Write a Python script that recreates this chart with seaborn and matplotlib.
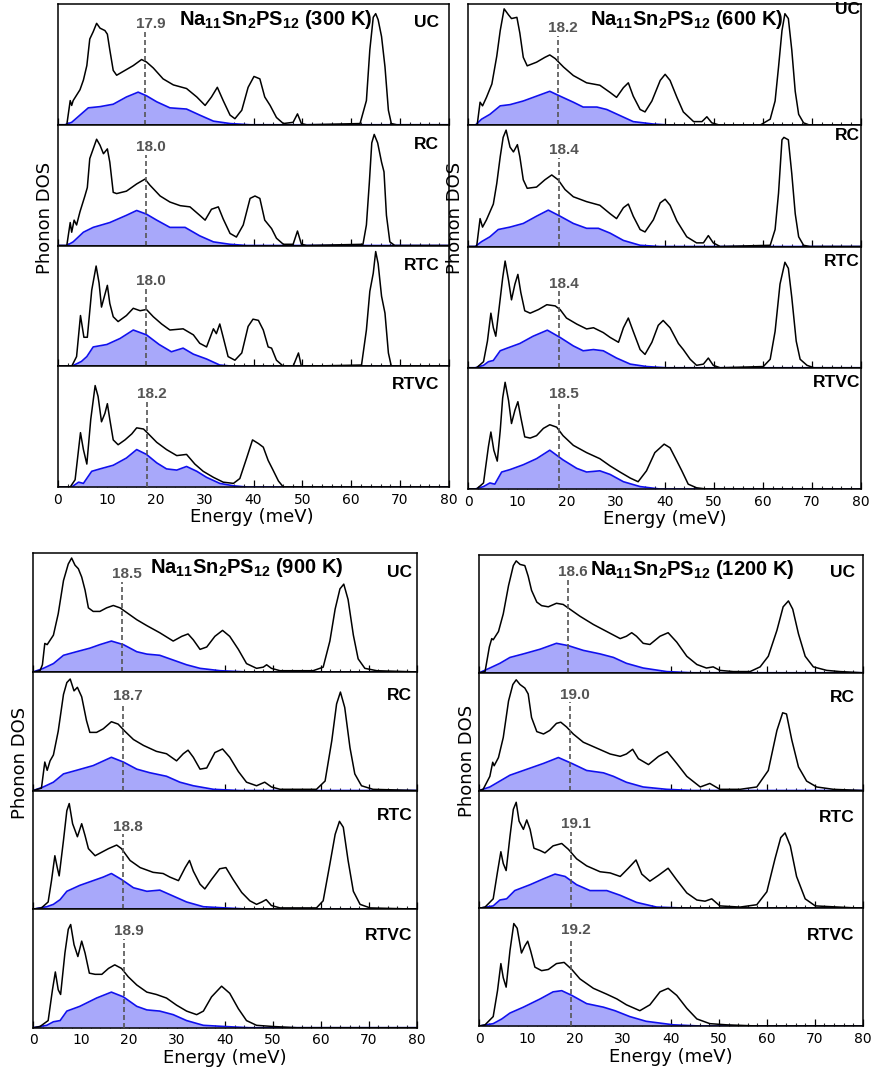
import matplotlib
matplotlib.use("Agg")
import matplotlib.pyplot as plt
from matplotlib.ticker import MultipleLocator
import seaborn as sns
import pandas as pd

# ---------------- data (energy meV, DOS as fraction of panel height) ----------------
temps = [300, 600, 900, 1200]
configs = ["UC", "RC", "RTC", "RTVC"]
xticks = [0, 10, 20, 30, 40, 50, 60, 70, 80]

avg_300 = [17.9, 18.0, 18.0, 18.2]
avg_600 = [18.2, 18.4, 18.4, 18.5]
avg_900 = [18.5, 18.7, 18.8, 18.9]
avg_1200 = [18.6, 19.0, 19.1, 19.2]

# 300 K
t300_uc_tot = [(0,0),(1.8,0),(2.5,.20),(2.8,.16),(3.1,.20),(4.5,.29),(5.2,.37),(5.9,.49),(6.5,.71),(7.2,.77),(7.9,.84),(8.6,.80),(9.6,.78),(10.1,.75),(10.6,.62),(11.3,.45),(12,.41),(13.7,.45),(15.4,.49),(17.1,.54),(18.1,.52),(19.5,.47),(21.5,.38),(23.6,.33),(26.3,.30),(28.4,.23),(30.1,.16),(31.4,.23),(32.6,.31),(33.8,.20),(35.2,.08),(36.2,.05),(37.6,.12),(38.9,.31),(40.1,.40),(41.3,.38),(42.3,.23),(43.4,.16),(44.7,.06),(46.1,.01),(48.1,.02),(49,.09),(49.8,.01),(50.9,0),(61.8,.01),(63.1,.2),(63.8,.62),(64.5,.89),(65,.92),(65.5,.87),(66.2,.73),(66.9,.48),(67.6,.12),(68.2,.01),(69.3,0),(80,0)]
t300_uc_par = [(0,0),(1.4,0),(2.8,.02),(4.5,.08),(6.2,.14),(8.6,.15),(11.3,.17),(14,.23),(16.4,.27),(18.1,.24),(20.2,.19),(22.9,.14),(26.3,.13),(29,.08),(31.8,.03),(35.2,.01),(39.3,0),(80,0)]
t300_rc_tot = [(0,0),(1.8,0),(2.5,.19),(2.8,.11),(3.3,.21),(3.8,.17),(4.5,.28),(5.5,.41),(6,.48),(6.5,.72),(7.2,.80),(7.9,.88),(8.6,.83),(9.3,.76),(10.1,.80),(10.6,.69),(11.3,.44),(12,.43),(14,.45),(16.1,.51),(17.8,.55),(18.8,.50),(20.9,.41),(22.9,.36),(25,.33),(27,.32),(29,.25),(30.1,.21),(31.4,.30),(32.8,.32),(33.8,.22),(35.2,.10),(36.5,.07),(37.9,.17),(39.3,.39),(40.3,.41),(41.3,.39),(42.3,.21),(43.7,.14),(44.7,.06),(46.1,.01),(48.1,.01),(49,.12),(49.8,.01),(50.9,0),(62.4,.01),(63.1,.17),(63.7,.52),(64.2,.85),(64.7,.92),(65.4,.85),(66.2,.69),(66.7,.61),(67.2,.25),(67.9,.03),(68.9,0),(80,0)]
t300_rc_par = [(0,0),(1.8,0),(3.1,.03),(5.2,.11),(7.2,.15),(10.6,.19),(14,.25),(16.1,.29),(18.1,.26),(20.2,.21),(22.9,.15),(26,.15),(29,.08),(31.8,.03),(35.2,.01),(38.6,0),(80,0)]
t300_rtc_tot = [(0,0),(2.8,0),(3.8,.08),(4.6,.42),(5.3,.24),(6,.24),(6.9,.63),(7.8,.83),(8.4,.69),(8.9,.49),(9.5,.58),(10.1,.67),(10.6,.52),(11.3,.41),(12.3,.37),(14,.42),(15.4,.48),(16.8,.46),(18.1,.47),(19.5,.41),(21.2,.35),(22.9,.30),(25.6,.31),(27.7,.26),(29,.19),(30.4,.16),(31.8,.31),(32.4,.27),(33.1,.35),(33.8,.24),(34.8,.08),(36.2,.05),(37.6,.11),(38.9,.33),(39.9,.39),(41,.38),(42,.30),(43,.16),(43.7,.15),(44.7,.05),(46.1,0),(48.1,0),(49.2,.11),(49.8,0),(62.1,.01),(63.1,.30),(63.8,.62),(64.5,.77),(65,.95),(65.5,.85),(66.2,.58),(66.9,.44),(67.6,.11),(68.2,0),(80,0)]
t300_rtc_par = [(0,0),(2.8,0),(3.8,.02),(4.8,.04),(5.9,.08),(7.2,.16),(10,.18),(12.7,.23),(15.4,.30),(18.1,.26),(20.7,.18),(23.2,.12),(25.6,.15),(27.7,.10),(30.4,.06),(33.1,.01),(35.9,0),(80,0)]
t300_rtvc_tot = [(0,0),(2.5,0),(3.5,.06),(4.6,.45),(5.2,.31),(5.9,.19),(6.7,.56),(7.6,.84),(8.2,.75),(8.9,.54),(9.6,.61),(10.1,.69),(10.6,.56),(11.3,.39),(12.3,.35),(13.7,.39),(15.1,.44),(16.1,.49),(17.5,.48),(18.5,.44),(20.2,.37),(22.2,.31),(24.3,.26),(26.3,.27),(28,.19),(29.7,.13),(31.8,.08),(33.8,.04),(35.9,.03),(37.2,.07),(38.6,.24),(39.8,.39),(41,.36),(42,.33),(43,.22),(44,.14),(45.1,.05),(46.1,0),(80,0)]
t300_rtvc_par = [(0,0),(2.8,0),(4.2,.04),(5.2,.03),(6.9,.13),(8.6,.15),(11.3,.18),(14,.24),(16.1,.31),(18.1,.27),(20.2,.20),(22.2,.15),(24.3,.14),(26.3,.17),(28.4,.13),(30.4,.08),(33.1,.03),(35.9,.01),(38.6,0),(80,0)]

# 600 K
t600_uc_tot = [(0,0),(1.8,0),(2.4,.19),(2.9,.16),(3.7,.23),(4.8,.34),(5.8,.57),(6.5,.78),(7.3,.96),(8.2,.91),(8.8,.88),(9.9,.89),(10.5,.76),(11.2,.56),(12,.49),(13.9,.52),(15.6,.56),(16.6,.58),(17.7,.55),(19.4,.48),(21.4,.41),(24.1,.35),(26.8,.33),(28.9,.27),(30.2,.23),(31.6,.31),(32.6,.35),(33.6,.24),(35,.13),(36,.11),(37.4,.20),(39.1,.37),(40.1,.42),(41.1,.37),(42.5,.23),(43.8,.11),(45.9,.03),(47.6,.03),(48.6,.07),(49.6,.02),(51.3,0),(59.4,0),(61.5,.05),(62.5,.20),(63.2,.48),(63.9,.78),(64.5,.92),(65.2,.88),(65.9,.62),(66.6,.28),(67.3,.09),(68.3,.02),(69.6,0),(80,0)]
t600_uc_par = [(0,0),(1.4,0),(2.7,.05),(4.4,.09),(6.5,.16),(8.5,.17),(11.2,.20),(13.9,.24),(16.6,.28),(18.7,.24),(21.4,.19),(23.4,.15),(26.2,.15),(28.2,.13),(30.9,.08),(33.6,.03),(37.7,.01),(41.8,0),(80,0)]
t600_rc_tot = [(0,0),(1.7,0),(2.4,.23),(2.9,.16),(3.7,.22),(5.1,.35),(5.8,.52),(6.5,.74),(7.1,.90),(7.7,.96),(8.5,.82),(9.2,.78),(10,.84),(10.5,.74),(11.2,.55),(12,.48),(13.9,.49),(15.6,.55),(17,.59),(18.3,.55),(19.7,.47),(21.4,.41),(24.1,.37),(26.8,.34),(28.9,.27),(30.2,.23),(31.6,.32),(32.6,.35),(33.6,.25),(35,.14),(36,.12),(37.7,.22),(39.1,.36),(40.1,.39),(41.1,.34),(42.5,.21),(44.5,.08),(46.5,.03),(47.9,.03),(48.9,.09),(49.9,.03),(51.3,0),(61.5,.01),(62.5,.14),(63.2,.44),(63.9,.88),(64.3,.90),(65.2,.88),(65.9,.60),(66.6,.27),(67.3,.08),(68.3,.01),(69.6,0),(80,0)]
t600_rc_par = [(0,0),(1.4,0),(2.7,.04),(4.4,.08),(6.1,.14),(8.5,.16),(11.2,.19),(13.9,.25),(16.3,.30),(18.7,.25),(21.4,.19),(24.1,.15),(26.5,.15),(28.9,.11),(31.6,.05),(35,.01),(39,0),(80,0)]
t600_rtc_tot = [(0,0),(1.7,0),(3.1,.05),(3.9,.22),(4.6,.45),(5.1,.33),(5.6,.26),(6.3,.50),(7,.74),(7.5,.88),(8.2,.72),(8.8,.56),(9.5,.69),(10.1,.77),(10.7,.62),(11.5,.47),(12.6,.45),(14.3,.48),(16,.52),(17.7,.51),(18.7,.48),(20,.41),(22.1,.36),(24.1,.32),(25.5,.33),(27.5,.29),(28.9,.25),(30.6,.21),(31.6,.33),(32.6,.41),(33.6,.30),(35,.15),(36,.11),(37.4,.21),(38.7,.35),(39.7,.39),(41.1,.33),(42.8,.20),(43.8,.15),(45.2,.07),(46.5,.02),(47.9,.03),(48.9,.08),(49.9,.02),(51.3,0),(60.1,.01),(61.5,.07),(62.5,.30),(63.5,.69),(64.5,.87),(65.2,.82),(65.9,.58),(66.8,.22),(67.6,.07),(69,.02),(70.4,0),(80,0)]
t600_rtc_par = [(0,0),(1.4,0),(3.1,.02),(4.1,.05),(5.1,.06),(6.5,.14),(7.8,.16),(10.5,.20),(13.2,.26),(16.1,.31),(18.7,.25),(21.4,.18),(23.4,.14),(25.5,.15),(27.5,.14),(30.2,.08),(33,.03),(36.3,.01),(40.4,0),(80,0)]
t600_rtvc_tot = [(0,0),(1.7,0),(3.1,.05),(4.1,.35),(4.6,.47),(5.2,.32),(5.9,.23),(6.5,.48),(7,.75),(7.5,.88),(8.2,.73),(8.8,.54),(9.5,.65),(10.1,.72),(10.7,.59),(11.5,.43),(12.6,.42),(13.9,.44),(15.3,.50),(16.6,.53),(18,.51),(19.3,.44),(21.4,.36),(24.1,.30),(26.8,.25),(28.9,.19),(30.9,.14),(33,.09),(34.6,.06),(36.3,.15),(38,.30),(39.9,.37),(41.1,.34),(42.5,.23),(43.5,.15),(44.8,.04),(46.5,.01),(48.5,0),(80,0)]
t600_rtvc_par = [(0,0),(1.4,0),(3.1,.02),(4.4,.05),(5.4,.04),(6.8,.14),(8.5,.16),(11.2,.20),(13.9,.25),(16.6,.32),(19.3,.24),(22.1,.17),(24.1,.14),(26.8,.15),(28.9,.12),(31.6,.06),(35,.02),(39,0),(80,0)]

# 900 K
t900_uc_tot = [(0,0),(1.4,.01),(1.9,.06),(2.4,.24),(2.9,.23),(4.2,.31),(5.2,.49),(6.3,.77),(7.3,.91),(8,.96),(8.7,.90),(9.4,.87),(10.1,.80),(10.8,.69),(11.5,.54),(12.5,.51),(13.9,.51),(15.3,.54),(16.7,.56),(18.1,.54),(19.5,.50),(21.6,.44),(23.7,.39),(26.4,.33),(29.2,.26),(31,.30),(32.3,.32),(33.4,.27),(34.8,.19),(36.2,.21),(37.9,.30),(39.5,.35),(41,.30),(42.8,.19),(44.5,.07),(46.6,.03),(48,.04),(48.7,.06),(49.7,.03),(51.5,.01),(58.4,.01),(60.5,.04),(61.9,.26),(63,.53),(64,.70),(64.8,.74),(65.7,.61),(66.8,.31),(67.8,.11),(69.2,.03),(71.7,.01),(80,0)]
t900_uc_par = [(0,0),(2.1,.03),(4.2,.07),(6.3,.14),(9,.17),(11.8,.20),(13.9,.23),(16.3,.26),(18.8,.23),(21.6,.17),(23.7,.15),(26.4,.14),(29.2,.10),(32,.06),(34.8,.03),(39,.01),(44.5,0),(80,0)]
t900_rc_tot = [(0,0),(1.7,.02),(2.4,.24),(2.9,.17),(3.5,.25),(4.2,.30),(5.2,.50),(6.3,.81),(7,.91),(7.7,.94),(8.5,.84),(9.2,.87),(10.1,.79),(11.1,.59),(11.8,.49),(13.2,.49),(14.6,.52),(16.3,.58),(17.7,.56),(19.1,.50),(20.9,.43),(23,.38),(25.7,.33),(27.8,.31),(29.9,.25),(31.3,.31),(32.3,.34),(33.4,.28),(34.8,.18),(36.2,.19),(37.9,.32),(39.5,.35),(41,.28),(42.8,.16),(44.5,.07),(46.6,.04),(48.3,.07),(49.7,.03),(51.5,.01),(59.1,.01),(60.9,.08),(62.3,.42),(63.3,.73),(64.1,.83),(65,.70),(66.1,.36),(67.1,.14),(68.5,.04),(70.9,.01),(80,0)]
t900_rc_par = [(0,0),(2.1,.03),(4.2,.07),(6.3,.14),(9,.17),(12.5,.21),(16.3,.28),(18.8,.24),(21.6,.18),(24.3,.15),(27.8,.12),(30.6,.07),(33.4,.04),(37.6,.01),(43,0),(80,0)]
t900_rtc_tot = [(0,0),(1.7,.01),(3.1,.06),(3.8,.24),(4.5,.45),(5,.35),(5.4,.28),(6.3,.58),(7,.83),(7.5,.89),(8.2,.72),(9.2,.61),(10.1,.72),(10.8,.62),(11.5,.51),(12.9,.45),(14.3,.48),(15.7,.51),(17.4,.54),(18.4,.51),(20.2,.41),(22.3,.35),(25,.31),(27.1,.30),(28.5,.27),(30.3,.24),(31.7,.35),(32.6,.41),(33.4,.32),(34.8,.21),(35.8,.17),(37.2,.25),(38.9,.34),(40.2,.35),(41.7,.25),(43.5,.14),(45.2,.07),(46.6,.04),(47.7,.06),(48.6,.08),(49.7,.03),(51.5,.01),(59.1,.01),(60.5,.07),(61.9,.38),(63,.63),(63.9,.74),(64.7,.69),(65.7,.41),(66.8,.15),(68.2,.04),(70.3,.01),(80,0)]
t900_rtc_par = [(0,0),(2.8,.02),(4.2,.04),(5.6,.08),(7,.15),(9.7,.20),(12.5,.24),(14.6,.27),(16.3,.30),(18.4,.25),(20.9,.18),(23.7,.15),(26.4,.16),(29.2,.11),(32,.06),(35.5,.02),(40,.01),(45,0),(80,0)]
t900_rtvc_tot = [(0,0),(1.4,.01),(3.1,.06),(4,.32),(4.6,.47),(5.2,.32),(5.7,.28),(6.6,.63),(7.3,.83),(7.8,.87),(8.5,.70),(9.3,.60),(10.1,.73),(10.8,.63),(11.7,.46),(12.9,.45),(14.3,.45),(15.7,.50),(17,.53),(18.4,.50),(19.8,.43),(21.6,.36),(23.7,.30),(25.7,.28),(27.8,.25),(29.9,.19),(32,.14),(34.1,.11),(35.5,.14),(37.2,.26),(39.3,.35),(41,.29),(42.8,.16),(44.5,.06),(46.6,.02),(50.1,.01),(55,0),(80,0)]
t900_rtvc_par = [(0,0),(2.8,.02),(4.2,.05),(5.6,.06),(7,.14),(9.7,.18),(13.2,.25),(16.3,.30),(18.8,.26),(21.6,.18),(23.7,.15),(26.4,.14),(29.2,.11),(32,.06),(35.5,.02),(40,.01),(45,0),(80,0)]

# 1200 K
t1200_uc_tot = [(0,0),(1.2,.01),(2.1,.22),(2.6,.29),(2.9,.28),(4,.35),(5,.50),(6.1,.74),(7.1,.91),(7.7,.95),(8.5,.92),(9.5,.91),(10.2,.82),(10.9,.70),(12,.60),(13,.57),(14.4,.56),(16.1,.59),(17.5,.58),(18.9,.54),(21,.48),(23.8,.41),(26.6,.35),(29.4,.29),(30.7,.31),(31.8,.34),(32.8,.31),(34.2,.25),(35.6,.24),(37.7,.31),(39.4,.34),(41.2,.26),(43.3,.14),(45.4,.07),(47.4,.04),(48.8,.05),(50.2,.02),(53,.01),(56.5,.01),(58.6,.05),(60.3,.14),(62.1,.36),(63.4,.56),(64.5,.61),(65.4,.54),(66.6,.33),(68,.14),(69.7,.05),(72.5,.02),(75.3,.01),(80,0)]
t1200_uc_par = [(0,0),(2.2,.04),(4.3,.08),(6.4,.13),(9.2,.16),(12.7,.20),(16.1,.25),(18.6,.23),(21.7,.19),(25.2,.16),(28,.13),(30.7,.08),(34.2,.04),(39.1,.01),(44.5,0),(80,0)]
t1200_rc_tot = [(0,0),(0.8,.01),(2.2,.12),(2.8,.24),(3.1,.21),(4,.28),(5,.45),(6.1,.76),(7,.90),(7.7,.94),(8.5,.90),(9.5,.87),(10.2,.82),(10.9,.62),(12,.50),(13.4,.48),(14.7,.51),(16.1,.57),(17,.58),(18.2,.54),(19.6,.48),(21.7,.41),(24.5,.36),(27.3,.31),(29.4,.29),(30.7,.31),(32,.35),(33.2,.27),(35.3,.22),(37.4,.29),(39.2,.33),(41.2,.23),(43.3,.12),(46.1,.03),(48.1,.06),(50.2,.01),(54.4,.01),(57.9,.03),(60.3,.17),(62.1,.51),(63.3,.66),(64.1,.65),(65.2,.43),(66.6,.20),(68.3,.08),(70.4,.03),(73.9,.01),(80,0)]
t1200_rc_par = [(0,0),(2.2,.03),(4.3,.08),(6.4,.13),(9.9,.18),(13.4,.23),(16.5,.28),(19.3,.23),(22.4,.17),(25.9,.15),(28,.12),(30.7,.07),(34.2,.03),(39.1,.01),(44.5,0),(80,0)]
t1200_rtc_tot = [(0,0),(1.2,.01),(2.9,.08),(3.8,.31),(4.5,.48),(5,.38),(5.6,.32),(6.4,.61),(7.1,.84),(7.7,.90),(8.3,.74),(9.2,.67),(9.9,.75),(10.6,.67),(11.4,.51),(12.7,.49),(13.7,.47),(15.4,.53),(17.2,.55),(18.6,.50),(20.3,.42),(22.4,.36),(25.2,.31),(27.3,.30),(29.4,.27),(31.1,.34),(32.7,.41),(33.9,.29),(35.6,.23),(37.4,.28),(39.4,.34),(41.2,.24),(43.3,.13),(45.4,.07),(47.1,.06),(48.5,.08),(50.2,.02),(54.4,.01),(57.9,.03),(60,.14),(61.7,.42),(62.9,.60),(63.8,.64),(64.9,.53),(66.2,.27),(68,.08),(70.1,.02),(75,.01),(80,0)]
t1200_rtc_par = [(0,0),(2.9,.02),(4.3,.07),(5.7,.08),(7.4,.15),(10.6,.20),(13.4,.25),(15.8,.29),(17.9,.27),(20.3,.20),(23.1,.15),(26.6,.15),(29.4,.11),(32.8,.05),(37,.01),(44,0),(80,0)]
t1200_rtvc_tot = [(0,0),(1.2,.01),(2.9,.08),(3.8,.30),(4.5,.53),(5,.41),(5.6,.33),(6.4,.64),(7.2,.87),(7.9,.83),(8.8,.62),(9.5,.68),(10.1,.72),(10.7,.64),(11.6,.50),(13,.47),(14.4,.48),(16.1,.53),(17.7,.54),(19.3,.48),(21,.40),(23.8,.32),(26.6,.27),(28.7,.23),(30.7,.18),(33.5,.13),(35.6,.18),(37.7,.29),(39.4,.32),(41.2,.26),(43.3,.15),(45.4,.06),(48.1,.02),(51.6,.01),(58,0),(80,0)]
t1200_rtvc_par = [(0,0),(2.9,.02),(4.7,.06),(6.4,.11),(9.2,.16),(12.7,.23),(15.4,.29),(17.2,.30),(19.3,.26),(22.4,.19),(25.9,.16),(28.3,.13),(31.4,.08),(34.8,.04),(40.5,.01),(46,0),(80,0)]

# ---------------- assemble ----------------
total = {
    300: [t300_uc_tot, t300_rc_tot, t300_rtc_tot, t300_rtvc_tot],
    600: [t600_uc_tot, t600_rc_tot, t600_rtc_tot, t600_rtvc_tot],
    900: [t900_uc_tot, t900_rc_tot, t900_rtc_tot, t900_rtvc_tot],
    1200: [t1200_uc_tot, t1200_rc_tot, t1200_rtc_tot, t1200_rtvc_tot],
}
partial = {
    300: [t300_uc_par, t300_rc_par, t300_rtc_par, t300_rtvc_par],
    600: [t600_uc_par, t600_rc_par, t600_rtc_par, t600_rtvc_par],
    900: [t900_uc_par, t900_rc_par, t900_rtc_par, t900_rtvc_par],
    1200: [t1200_uc_par, t1200_rc_par, t1200_rtc_par, t1200_rtvc_par],
}
averages = {300: avg_300, 600: avg_600, 900: avg_900, 1200: avg_1200}

# ---------------- layout (pixels) ----------------
W, H = 875, 1074
panel_px = {300: (58, 449, 4, 487), 600: (468.3, 861, 4, 489),
            900: (33.3, 416.6, 553.3, 1027.7), 1200: (479.3, 862.7, 555, 1026)}
avg_base = {300: [0.80, 0.78, 0.67, 0.74], 600: [0.77, 0.76, 0.66, 0.75],
            900: [0.79, 0.76, 0.66, 0.78], 1200: [0.82, 0.78, 0.68, 0.78]}
lab_base = {300: [0.81, 0.80, 0.80, 0.81], 600: [0.92, 0.88, 0.84, 0.84],
            900: [0.80, 0.76, 0.75, 0.74], 1200: [0.81, 0.75, 0.73, 0.73]}
lab_right = {300: 78.0, 600: 79.8, 900: 79.1, 1200: 78.3}
ylab_pos = {300: (45, 218), 600: (455, 218), 900: (20, 763), 1200: (467, 761)}
xlab_pos = {300: (252, 517), 600: (665, 519), 900: (225, 1058), 1200: (671, 1057)}

sns.set_theme(style="ticks")
plt.rcParams["font.family"] = ["DejaVu Sans"]
plt.rcParams["mathtext.default"] = "regular"
ARIAL = ["Liberation Sans", "DejaVu Sans"]

fig = plt.figure(figsize=(W / 100, H / 100), dpi=100)
fig.patch.set_facecolor("white")

for T in temps:
    x0, x1, yt, yb = panel_px[T]
    h = (yb - yt) / 4
    for i, cfg in enumerate(configs):
        top = yt + i * h
        ax = fig.add_axes([x0 / W, 1 - (top + h) / H, (x1 - x0) / W, h / H])
        ax.set_facecolor("white")
        dtot = pd.DataFrame(total[T][i], columns=["E", "D"])
        dpar = pd.DataFrame(partial[T][i], columns=["E", "D"])
        ax.fill_between(dpar["E"], 0, dpar["D"], color=(0.66, 0.66, 0.98), lw=0, zorder=1)
        sns.lineplot(data=dpar, x="E", y="D", ax=ax, color="#1010ee", linewidth=1.2,
                     estimator=None, sort=False, zorder=2)
        sns.lineplot(data=dtot, x="E", y="D", ax=ax, color="black", linewidth=1.1,
                     estimator=None, sort=False, zorder=3)
        a = averages[T][i]
        ab = avg_base[T][i]
        ax.plot([a, a], [0, ab - 0.03], color="#555555", lw=1.2,
                linestyle=(0, (3, 1.8)), zorder=4)
        ax.text(a + 1.0, ab, f"{a:.1f}", ha="center", va="baseline", color="#555555",
                fontsize=11, fontweight="bold", family=ARIAL, zorder=5)
        ax.text(lab_right[T], lab_base[T][i], cfg, ha="right", va="baseline",
                fontsize=12.5, fontweight="bold", family=ARIAL, color="black", zorder=5)
        if i == 0:
            ax.text(44.5, 0.83, r"Na$_{11}$Sn$_{2}$PS$_{12}$ (%d K)" % T, ha="center",
                    va="baseline", fontsize=14.5, fontweight="bold", family=ARIAL,
                    color="black", zorder=5)
        ax.set_xlim(0, 80)
        ax.set_ylim(0, 1)
        ax.set_xlabel("")
        ax.set_ylabel("")
        ax.set_yticks([])
        ax.set_xticks(xticks)
        ax.xaxis.set_minor_locator(MultipleLocator(2))
        ax.tick_params(axis="x", which="major", direction="in", length=5, width=0.9,
                       bottom=True, top=False, labelsize=10, pad=4, colors="black")
        ax.tick_params(axis="x", which="minor", direction="in", length=2.5, width=0.8,
                       bottom=True, top=False)
        if i < 3:
            ax.tick_params(axis="x", labelbottom=False)
        for sp in ax.spines.values():
            sp.set_visible(True)
            sp.set_linewidth(1.1)
            sp.set_color("black")
    xl, yl = ylab_pos[T]
    fig.text(xl / W, 1 - yl / H, "Phonon DOS", rotation=90, ha="center", va="center",
             fontsize=13, color="black")
    xx, yy = xlab_pos[T]
    fig.text(xx / W, 1 - yy / H, "Energy (meV)", ha="center", va="center",
             fontsize=13, color="black")

fig.savefig("out.png", dpi=100, facecolor="white")
